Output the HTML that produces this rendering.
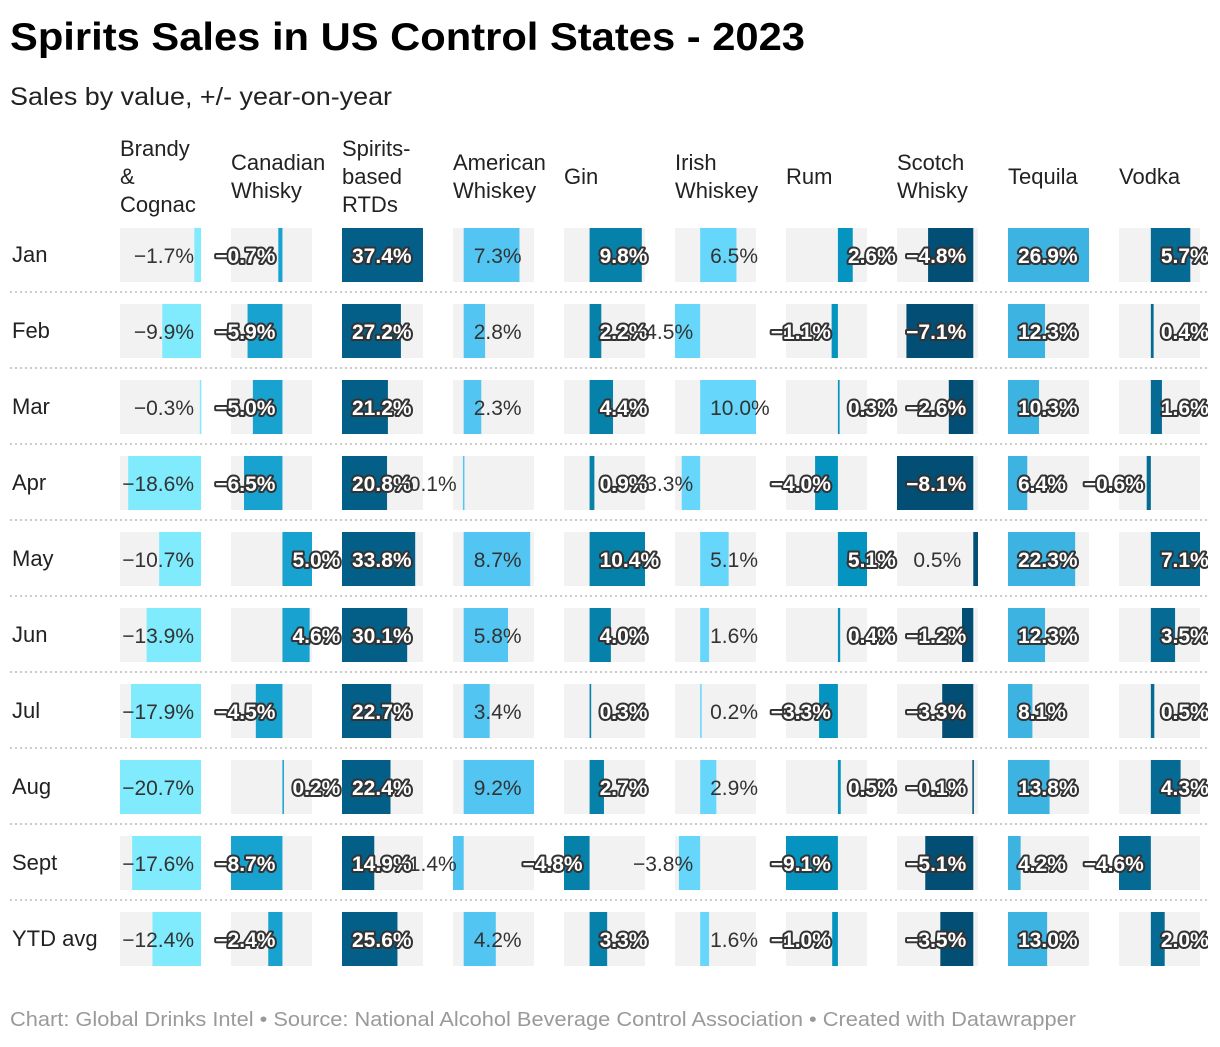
<!DOCTYPE html>
<html><head><meta charset="utf-8">
<style>
body{margin:0;background:#fff;width:1220px;height:1042px;overflow:hidden;font-family:"Liberation Sans",sans-serif}
svg text{font-family:"Liberation Sans",sans-serif}
</style></head>
<body>
<svg id="chart" width="1220" height="1042" viewBox="0 0 1220 1042" xmlns="http://www.w3.org/2000/svg">
<text x="10" y="50" font-size="39" font-weight="bold" fill="#000" textLength="795" lengthAdjust="spacingAndGlyphs">Spirits Sales in US Control States - 2023</text>
<text x="10" y="105" font-size="25" fill="#222" textLength="382" lengthAdjust="spacingAndGlyphs">Sales by value, +/- year-on-year</text>
<g id="table"></g>
<text x="10" y="1026" font-size="20" fill="#9a9a9a" textLength="1066" lengthAdjust="spacingAndGlyphs">Chart: Global Drinks Intel • Source: National Alcohol Beverage Control Association • Created with Datawrapper</text>
</svg>
<script>
const rows = ["Jan","Feb","Mar","Apr","May","Jun","Jul","Aug","Sept","YTD avg"];
const headers = [["Brandy","&","Cognac"],["Canadian","Whisky"],["Spirits-","based","RTDs"],["American","Whiskey"],["Gin"],["Irish","Whiskey"],["Rum"],["Scotch","Whisky"],["Tequila"],["Vodka"]];
const brandy = [-1.7,-9.9,-0.3,-18.6,-10.7,-13.9,-17.9,-20.7,-17.6,-12.4];
const canadian = [-0.7,-5.9,-5.0,-6.5,5.0,4.6,-4.5,0.2,-8.7,-2.4];
const rtds = [37.4,27.2,21.2,20.8,33.8,30.1,22.7,22.4,14.9,25.6];
const american = [7.3,2.8,2.3,-0.1,8.7,5.8,3.4,9.2,-1.4,4.2];
const gin = [9.8,2.2,4.4,0.9,10.4,4.0,0.3,2.7,-4.8,3.3];
const irish = [6.5,-4.5,10.0,-3.3,5.1,1.6,0.2,2.9,-3.8,1.6];
const rum = [2.6,-1.1,0.3,-4.0,5.1,0.4,-3.3,0.5,-9.1,-1.0];
const scotch = [-4.8,-7.1,-2.6,-8.1,0.5,-1.2,-3.3,-0.1,-5.1,-3.5];
const tequila = [26.9,12.3,10.3,6.4,22.3,12.3,8.1,13.8,4.2,13.0];
const vodka = [5.7,0.4,1.6,-0.6,7.1,3.5,0.5,4.3,-4.6,2.0];
const series = [brandy,canadian,rtds,american,gin,irish,rum,scotch,tequila,vodka];
const colors = ["#80ebfd","#17a2cf","#035f87","#52c5f2","#0581aa","#66d7fb","#0593bf","#024e74","#3cb3e0","#056b95"];
const plain = [true,false,false,true,false,true,false,false,false,false];
const names = ["brandy","canadian","rtds","american","gin","irish","rum","scotch","tequila","vodka"];

const NS="http://www.w3.org/2000/svg";
const g=document.getElementById('table');
function mk(tag,attrs,parent){const e=document.createElementNS(NS,tag);for(const k in attrs)e.setAttribute(k,attrs[k]);(parent||g).appendChild(e);return e;}
const colX = i => 120 + 111*i;
const cellW = 81;
const rowTop = r => 228 + 76*r;
const cellH = 54;
const fmt = v => (v<0?"\u2212":"") + Math.abs(v).toFixed(1) + "%";

headers.forEach((h,i)=>{
  const n=h.length;
  h.forEach((line,j)=>{
    const t=mk('text',{x:colX(i),y:176+(j-(n-1)/2)*28+8,'font-size':22,fill:'#222'});
    
    
    t.textContent=line;
  });
});
const defs=mk('defs',{});
const cp=mk('clipPath',{id:'clipR'},defs);
mk('rect',{x:0,y:0,width:1208,height:1042},cp);
const body=mk('g',{'clip-path':'url(#clipR)'});

rows.forEach((rn,r)=>{
  const y0=rowTop(r);
  const lbl=mk('text',{x:12,y:y0+cellH/2+7,'font-size':22,fill:'#222'},body);
  
  
  lbl.textContent=rn;
  if(r<rows.length-1){
    const ln=mk('line',{x1:10,x2:1208,y1:y0+64,y2:y0+64,stroke:'#ccc','stroke-width':2,'stroke-dasharray':'2,3'},body);
    
    
  }
});

const labels=[];
series.forEach((vals,i)=>{
  const mn=Math.min(0,...vals), mx=Math.max(0,...vals);
  const sc=cellW/(mx-mn);
  const x0=colX(i);
  const zx=x0+(0-mn)*sc;
  const cramped=(x0+cellW-zx)<10;
  vals.forEach((v,r)=>{
    const y0=rowTop(r);
    const bg=mk('rect',{x:x0,y:y0,width:cellW,height:cellH,fill:'#f2f2f2'},body);
    
    
    const bx=v<0?zx+v*sc:zx;
    const b=mk('rect',{x:bx,y:y0,width:Math.max(Math.abs(v)*sc,1.5),height:cellH,fill:colors[i]},body);
    
    
    const left = v<0 || cramped;
    labels.push({x:left?zx-(v<0?7:12):zx+10,anchor:left?'end':'start',y:y0+cellH/2+8,txt:fmt(v),plain:plain[i]||(cramped&&v>0)});
  });
});
labels.forEach(l=>{
  const a={x:l.x,y:l.y,'font-size':21,'text-anchor':l.anchor};
  if(l.plain){a.fill='#333';}
  else{a.fill='#fff';a.stroke='#333';a['stroke-width']=4;a['paint-order']='stroke';a['stroke-linejoin']='round';a['font-weight']='bold';}
  const t=mk('text',a,body);
  
  
  t.textContent=l.txt;
});
</script>
</body></html>
